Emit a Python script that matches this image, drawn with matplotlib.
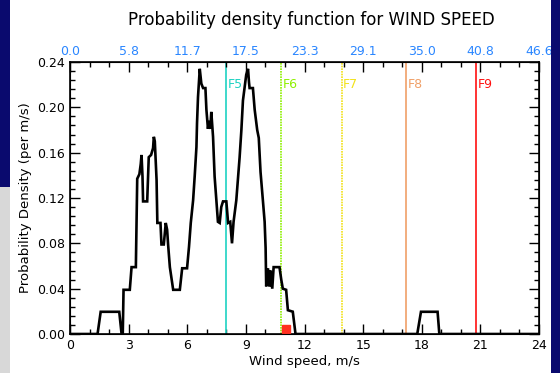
import numpy as np
import matplotlib
matplotlib.use("Agg")
import matplotlib.pyplot as plt
from matplotlib.patches import Rectangle
from matplotlib.ticker import MultipleLocator, FixedLocator

# ---- data ----
wind_speed = [0, 1.41, 1.57, 2.52, 2.64, 2.70, 2.74, 3.06, 3.15, 3.37, 3.44, 3.55, 3.62,
              3.66, 3.71, 3.74, 3.95, 4.03, 4.15, 4.25, 4.29, 4.34, 4.43, 4.47, 4.63,
              4.68, 4.80, 4.90, 4.97, 5.02, 5.11, 5.28, 5.62, 5.74, 5.99, 6.09, 6.18,
              6.30, 6.38, 6.47, 6.50, 6.55, 6.64, 6.72, 6.81, 6.93, 6.98, 7.06, 7.11,
              7.18, 7.23, 7.32, 7.40, 7.49, 7.57, 7.66, 7.74, 7.83, 8.00, 8.09, 8.20,
              8.29, 8.37, 8.51, 8.68, 8.77, 8.85, 9.02, 9.11, 9.16, 9.19, 9.36, 9.45,
              9.58, 9.66, 9.75, 9.87, 9.96, 10.01, 10.04, 10.13, 10.21, 10.25, 10.35,
              10.42, 10.72, 10.81, 10.89, 11.06, 11.15, 11.40, 11.54, 17.77, 17.96,
              18.81, 18.90, 24]
density = [0, 0, 0.0196, 0.0196, 0, 0, 0.039, 0.039, 0.059, 0.059, 0.137, 0.141, 0.150,
           0.158, 0.139, 0.117, 0.117, 0.156, 0.158, 0.164, 0.174, 0.170, 0.136, 0.098, 0.098,
           0.079, 0.079, 0.098, 0.092, 0.079, 0.059, 0.039, 0.039, 0.058, 0.058, 0.077, 0.098,
           0.118, 0.139, 0.165, 0.186, 0.209, 0.234, 0.221, 0.217, 0.217, 0.198, 0.181, 0.188,
           0.181, 0.196, 0.174, 0.139, 0.118, 0.099, 0.098, 0.112, 0.117, 0.117, 0.098, 0.099,
           0.080, 0.099, 0.118, 0.156, 0.180, 0.206, 0.229, 0.234, 0.222, 0.217, 0.217, 0.198,
           0.180, 0.173, 0.143, 0.118, 0.099, 0.076, 0.042, 0.058, 0.042, 0.056, 0.040,
           0.059, 0.059, 0.048, 0.040, 0.039, 0.021, 0.0197, 0, 0, 0.0196,
           0.0196, 0, 0]

beaufort_speed = [8.0, 10.8, 13.9, 17.2, 20.8]
beaufort_label = ["F5", "F6", "F7", "F8", "F9"]
beaufort_color = ["#1ed2c2", "#8ef000", "#f2e21a", "#f0a068", "#ff1010"]
beaufort_style = ["-", (0, (1, 0.6)), (0, (1, 0.6)), "-", "-"]

bottom_ticks = [0, 3, 6, 9, 12, 15, 18, 21, 24]
top_max = 46.6
top_tick_labels = ["0.0", "5.8", "11.7", "17.5", "23.3", "29.1", "35.0", "40.8", "46.6"]
y_ticks = [0.00, 0.04, 0.08, 0.12, 0.16, 0.20, 0.24]

# ---- figure ----
fig = plt.figure(figsize=(5.6, 3.73), dpi=100, facecolor="white")
W, H = 560, 373
navy = "#0a0a6e"
fig.patches.append(Rectangle((0, 1 - 187 / H), 10 / W, 187 / H, transform=fig.transFigure,
                             facecolor=navy, edgecolor="none", zorder=0))
fig.patches.append(Rectangle((0, 0), 10 / W, 1 - 187 / H, transform=fig.transFigure,
                             facecolor="#d8d8d8", edgecolor="none", zorder=0))
fig.patches.append(Rectangle((551 / W, 0), 9 / W, 1, transform=fig.transFigure,
                             facecolor=navy, edgecolor="none", zorder=0))

ax = fig.add_axes([70 / W, 1 - 334 / H, 469 / W, 272 / H])
ax.set_xlim(0, 24)
ax.set_ylim(0, 0.24)

ax.plot(wind_speed, density, color="black", lw=1.9, zorder=3, solid_joinstyle="miter")

for v, lab, c, ls in zip(beaufort_speed, beaufort_label, beaufort_color, beaufort_style):
    ax.axvline(v, color=c, lw=1.2, ls=ls, zorder=2)
    ax.text(v + 0.08, 0.22, lab, color=c, fontsize=9, va="center", ha="left")

ax.plot([11.05], [0.004], marker="s", color="#ff3020", ms=6, zorder=4, clip_on=False)

ax.set_xticks(bottom_ticks)
ax.xaxis.set_minor_locator(MultipleLocator(1))
ax.set_yticks(y_ticks)
ax.set_yticklabels([f"{v:.2f}" for v in y_ticks])
ax.yaxis.set_minor_locator(MultipleLocator(0.008))
ax.tick_params(which="both", direction="in", right=True, top=False, labelsize=9,
               width=1.0, color="black")
ax.tick_params(which="major", length=7)
ax.tick_params(which="minor", length=3.5)
ax.set_xlabel("Wind speed, m/s", fontsize=9.5, labelpad=2)
ax.set_ylabel("Probability Density (per m/s)", fontsize=9.5, labelpad=4)
for s in ax.spines.values():
    s.set_linewidth(1.2)

ax2 = ax.twiny()
ax2.set_xlim(0, top_max)
top_pos = list(np.linspace(0, top_max, len(top_tick_labels)))
ax2.xaxis.set_major_locator(FixedLocator(top_pos))
ax2.set_xticklabels(top_tick_labels)
ax2.xaxis.set_minor_locator(FixedLocator(list(np.linspace(0, top_max, 25))))
ax2.tick_params(which="both", direction="in", labelsize=9, labelcolor="#2a86ff",
                width=1.0, color="black", pad=3)
ax2.tick_params(which="major", length=7)
ax2.tick_params(which="minor", length=3.5)

fig.text(311 / W, 1 - 20 / H, "Probability density function for WIND SPEED",
         ha="center", va="center", fontsize=12)

fig.savefig("out.png", dpi=100, facecolor="white")
